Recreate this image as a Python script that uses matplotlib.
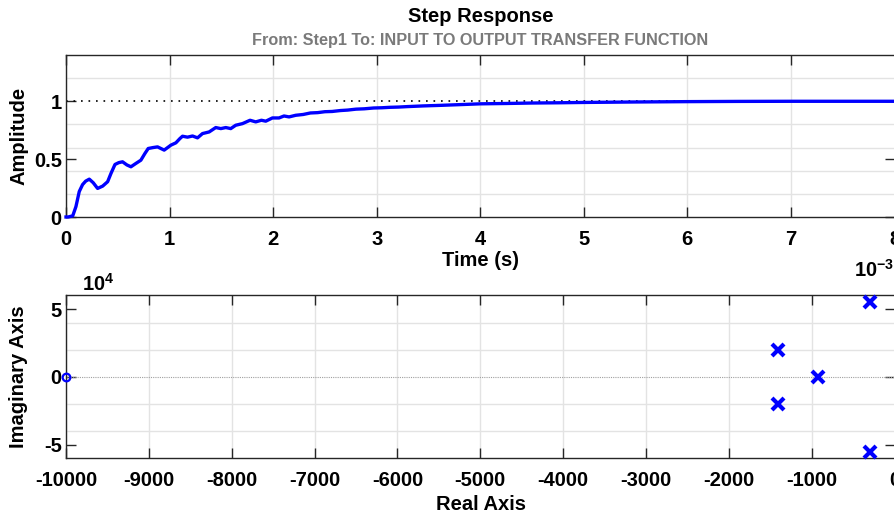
import matplotlib
matplotlib.use("Agg")
import matplotlib.pyplot as plt
import numpy as np
from matplotlib.ticker import FixedLocator

# ---------------- data ----------------
# step response (time in ms, i.e. x 10^-3 s)
time_ms = [0.0, 0.02, 0.065, 0.096, 0.128, 0.16, 0.19, 0.225, 0.263, 0.305, 0.354,
           0.402, 0.434, 0.473, 0.51, 0.546, 0.588, 0.627, 0.675, 0.723, 0.762,
           0.794, 0.84, 0.884, 0.948, 1.013, 1.061, 1.10, 1.125, 1.173, 1.222,
           1.27, 1.318, 1.382, 1.446, 1.495, 1.543, 1.591, 1.639, 1.704, 1.777,
           1.832, 1.887, 1.929, 1.993, 2.057, 2.105, 2.154, 2.218, 2.29, 2.36,
           2.43, 2.5, 2.57, 2.65, 2.72, 2.8, 2.88, 2.97, 3.05, 3.13, 3.21, 3.295,
           3.45, 3.62, 3.8, 4.0, 4.25, 4.5, 4.75, 5.0, 5.5, 6.0, 6.5, 7.0, 7.5, 8.0]
amplitude = [0.0, 0.0, 0.01, 0.09, 0.22, 0.28, 0.31, 0.327, 0.296, 0.247, 0.267,
             0.305, 0.376, 0.454, 0.47, 0.477, 0.45, 0.434, 0.463, 0.491, 0.549,
             0.592, 0.600, 0.606, 0.578, 0.621, 0.641, 0.678, 0.698, 0.69, 0.70,
             0.684, 0.721, 0.735, 0.773, 0.764, 0.773, 0.764, 0.793, 0.807, 0.836,
             0.822, 0.836, 0.828, 0.856, 0.856, 0.873, 0.865, 0.879, 0.886, 0.899,
             0.902, 0.910, 0.912, 0.920, 0.924, 0.932, 0.935, 0.942, 0.944, 0.948,
             0.950, 0.954, 0.960, 0.965, 0.971, 0.978, 0.981, 0.985, 0.987, 0.990,
             0.994, 0.997, 0.999, 1.0, 1.0, 1.0]
final_value = 1.0

# pole-zero map (rad/s)
zero_re = [-10000.0]
zero_im = [0.0]
pole_re = [-300.0, -300.0, -1410.0, -1410.0, -920.0]
pole_im = [55500.0, -55500.0, 20000.0, -20000.0, 0.0]

xticks_step = [0, 1, 2, 3, 4, 5, 6, 7, 8]
yticks_step = [0, 0.5, 1]
xticks_pz = [-10000, -9000, -8000, -7000, -6000, -5000, -4000, -3000, -2000, -1000, 0]
yticks_pz = [-5, 0, 5]

# ---------------- style ----------------
plt.rcParams['font.family'] = ['Liberation Sans', 'DejaVu Sans']
plt.rcParams['font.weight'] = 'bold'
plt.rcParams['mathtext.fontset'] = 'custom'
plt.rcParams['mathtext.rm'] = 'Liberation Sans:bold'
plt.rcParams['mathtext.bf'] = 'Liberation Sans:bold'
plt.rcParams['mathtext.it'] = 'Liberation Sans:bold'
FS = 14.5
BLUE = (0, 0, 1)
SPINE = '#262626'
GRID = '#e3e3e3'

fig = plt.figure(figsize=(8.95, 5.20), dpi=100)
W, H = 895.0, 520.0

def fx(px):
    return px / W

def fy(py):
    return 1 - py / H

L, R = 66, 894.5
ax1 = fig.add_axes([fx(L), fy(217), fx(R - L), (217 - 55) / H])
ax2 = fig.add_axes([fx(L), fy(458.3), fx(R - L), (458.3 - 295) / H])

for ax in (ax1, ax2):
    for s in ax.spines.values():
        s.set_color(SPINE)
        s.set_linewidth(1.0)
    ax.tick_params(which='major', direction='in', length=7, width=1, color=SPINE,
                   top=True, right=True, labelsize=FS, pad=9)
    ax.tick_params(axis='y', which='major', pad=3)
    ax.tick_params(which='minor', length=0)

# ---- step response ----
ax1.set_xlim(0, 8)
ax1.set_ylim(0, 1.4)
ax1.xaxis.set_major_locator(FixedLocator(xticks_step))
ax1.yaxis.set_major_locator(FixedLocator(yticks_step))
ax1.yaxis.set_minor_locator(FixedLocator([0.2, 0.4, 0.6, 0.8, 1.2]))
ax1.set_xticklabels([str(v) for v in xticks_step], fontweight='bold')
ax1.set_yticklabels(['0', '0.5', '1'], fontweight='bold')
ax1.grid(True, axis='x', which='major', color=GRID, linewidth=1)
ax1.grid(True, axis='y', which='minor', color=GRID, linewidth=1)
ax1.set_axisbelow(True)
ax1.axhline(final_value, color='black', linestyle=(0, (1, 3.5)), linewidth=1.2, zorder=2)
ax1.plot(time_ms, amplitude, color=BLUE, linewidth=2.4, zorder=3, clip_on=False)
ax1.set_ylabel('Amplitude', fontsize=FS, fontweight='bold', va='center')
ax1.yaxis.set_label_coords(-(66 - 19) / (R - L), 0.5)
ax1.set_xlabel('Time (s)', fontsize=FS, fontweight='bold', va='center')
ax1.xaxis.set_label_coords((480.5 - L) / (R - L), -(260 - 217) / (217 - 55))

# ---- pole-zero map ----
ax2.set_xlim(-10000, 0)
ax2.set_ylim(-6.02, 6.07)
ax2.xaxis.set_major_locator(FixedLocator(xticks_pz))
ax2.yaxis.set_major_locator(FixedLocator(yticks_pz))
ax2.yaxis.set_minor_locator(FixedLocator([-4, -2, 2, 4]))
ax2.set_xticklabels([str(v) for v in xticks_pz], fontweight='bold')
ax2.set_yticklabels([str(v) for v in yticks_pz], fontweight='bold')
ax2.grid(True, axis='x', which='major', color=GRID, linewidth=1)
ax2.grid(True, axis='y', which='minor', color=GRID, linewidth=1)
ax2.set_axisbelow(True)
ax2.axhline(0, color='#a0a0a0', linestyle=(0, (1, 1)), linewidth=0.8, zorder=2)
ax2.plot(zero_re, np.array(zero_im) / 1e4, linestyle='none', marker='o', markersize=5.5,
         markerfacecolor='none', markeredgecolor=BLUE, markeredgewidth=1.6,
         clip_on=False, zorder=4)
ax2.plot(pole_re, np.array(pole_im) / 1e4, linestyle='none', marker='x', markersize=8,
         markeredgecolor=BLUE, markeredgewidth=3, clip_on=False, zorder=4)
ax2.set_ylabel('Imaginary Axis', fontsize=FS, fontweight='bold', va='center')
ax2.yaxis.set_label_coords(-(66 - 19) / (R - L), 0.5)
ax2.set_xlabel('Real Axis', fontsize=FS, fontweight='bold', va='center')
ax2.xaxis.set_label_coords((480.5 - L) / (R - L), -(505 - 458.3) / (458.3 - 295))

# exponent labels
fig.text(fx(82), fy(284), r'$\mathbf{10^{4}}$', fontsize=FS, ha='left', va='center')
fig.text(fx(854), fy(270), r'$\mathbf{10^{-3}}$', fontsize=FS, ha='left', va='center')

# titles
fig.text(fx(480.5), fy(17), 'Step Response', fontsize=FS, fontweight='bold',
         ha='center', va='center', color='black')
fig.text(fx(480.5), fy(41), 'From: Step1 To: INPUT TO OUTPUT TRANSFER FUNCTION',
         fontsize=11.7, fontweight='bold', ha='center', va='center', color='#7a7a7a')

fig.savefig('out.png', dpi=100)
